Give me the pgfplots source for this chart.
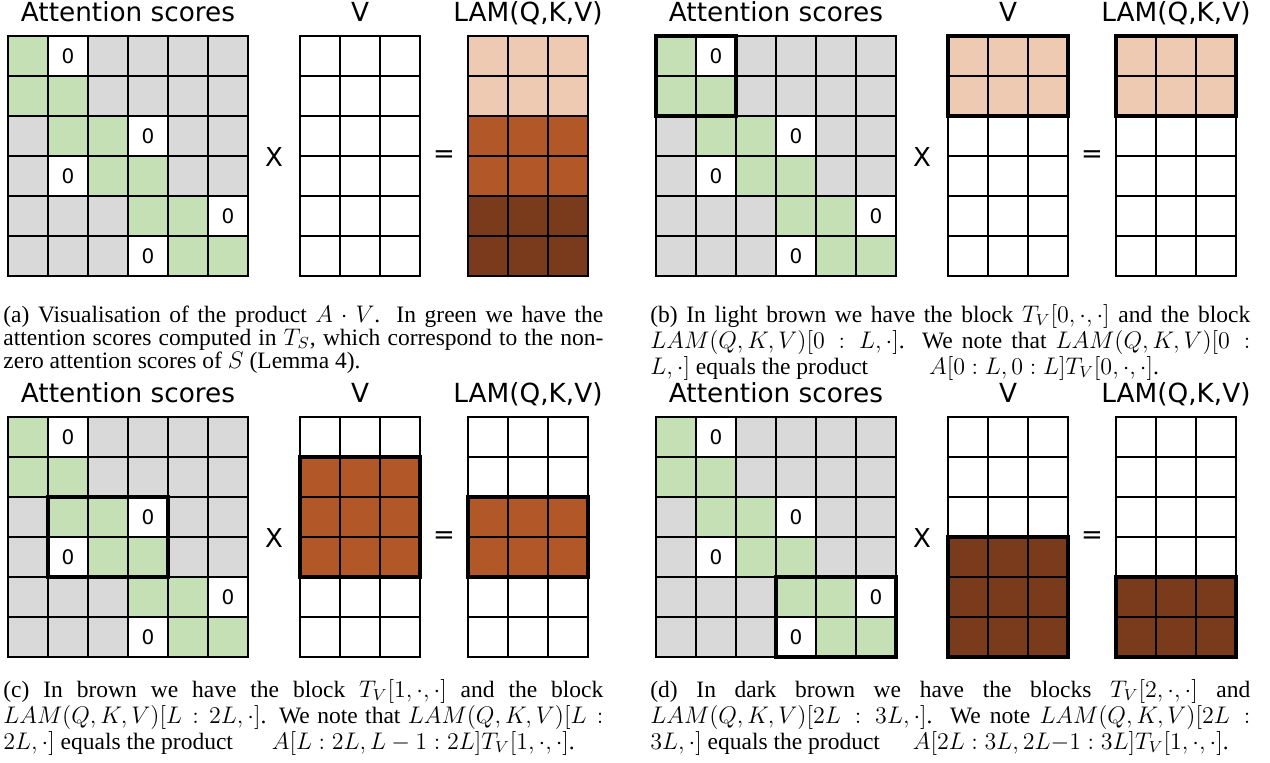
\documentclass[border=0pt]{standalone}
\usepackage{fontspec}
\setmainfont{Liberation Serif}
\newfontfamily\labelfont{DejaVu Sans}
\usepackage{pgfplots}
\usepackage{pgfplotstable}
\pgfplotsset{compat=1.18}

\newlength\px
\setlength\px{0.5pt}
\setlength\lineskiplimit{-20pt}
\newcommand\capstrut{\rule{0pt}{10pt}}

% cell codes: 0 white, 1 grey, 2 green, 3 light brown, 4 brown, 5 dark brown
\pgfplotstableread[row sep=\\]{
x y c\\
0.5 0.5 2\\ 1.5 0.5 0\\ 2.5 0.5 1\\ 3.5 0.5 1\\ 4.5 0.5 1\\ 5.5 0.5 1\\
0.5 1.5 2\\ 1.5 1.5 2\\ 2.5 1.5 1\\ 3.5 1.5 1\\ 4.5 1.5 1\\ 5.5 1.5 1\\
0.5 2.5 1\\ 1.5 2.5 2\\ 2.5 2.5 2\\ 3.5 2.5 0\\ 4.5 2.5 1\\ 5.5 2.5 1\\
0.5 3.5 1\\ 1.5 3.5 0\\ 2.5 3.5 2\\ 3.5 3.5 2\\ 4.5 3.5 1\\ 5.5 3.5 1\\
0.5 4.5 1\\ 1.5 4.5 1\\ 2.5 4.5 1\\ 3.5 4.5 2\\ 4.5 4.5 2\\ 5.5 4.5 0\\
0.5 5.5 1\\ 1.5 5.5 1\\ 2.5 5.5 1\\ 3.5 5.5 0\\ 4.5 5.5 2\\ 5.5 5.5 2\\
}\attn

\pgfplotstableread[row sep=\\]{
x y\\ 1.5 0.5\\ 3.5 2.5\\ 1.5 3.5\\ 5.5 4.5\\ 3.5 5.5\\
}\zeros

\pgfplotstableread[row sep=\\]{
x y c\\
0.5 0.5 0\\ 1.5 0.5 0\\ 2.5 0.5 0\\
0.5 1.5 0\\ 1.5 1.5 0\\ 2.5 1.5 0\\
0.5 2.5 0\\ 1.5 2.5 0\\ 2.5 2.5 0\\
0.5 3.5 0\\ 1.5 3.5 0\\ 2.5 3.5 0\\
0.5 4.5 0\\ 1.5 4.5 0\\ 2.5 4.5 0\\
0.5 5.5 0\\ 1.5 5.5 0\\ 2.5 5.5 0\\
}\Va

\pgfplotstableread[row sep=\\]{
x y c\\
0.5 0.5 3\\ 1.5 0.5 3\\ 2.5 0.5 3\\
0.5 1.5 3\\ 1.5 1.5 3\\ 2.5 1.5 3\\
0.5 2.5 4\\ 1.5 2.5 4\\ 2.5 2.5 4\\
0.5 3.5 4\\ 1.5 3.5 4\\ 2.5 3.5 4\\
0.5 4.5 5\\ 1.5 4.5 5\\ 2.5 4.5 5\\
0.5 5.5 5\\ 1.5 5.5 5\\ 2.5 5.5 5\\
}\La

\pgfplotstableread[row sep=\\]{
x y c\\
0.5 0.5 3\\ 1.5 0.5 3\\ 2.5 0.5 3\\
0.5 1.5 3\\ 1.5 1.5 3\\ 2.5 1.5 3\\
0.5 2.5 0\\ 1.5 2.5 0\\ 2.5 2.5 0\\
0.5 3.5 0\\ 1.5 3.5 0\\ 2.5 3.5 0\\
0.5 4.5 0\\ 1.5 4.5 0\\ 2.5 4.5 0\\
0.5 5.5 0\\ 1.5 5.5 0\\ 2.5 5.5 0\\
}\Vb

\pgfplotstableread[row sep=\\]{
x y c\\
0.5 0.5 0\\ 1.5 0.5 0\\ 2.5 0.5 0\\
0.5 1.5 4\\ 1.5 1.5 4\\ 2.5 1.5 4\\
0.5 2.5 4\\ 1.5 2.5 4\\ 2.5 2.5 4\\
0.5 3.5 4\\ 1.5 3.5 4\\ 2.5 3.5 4\\
0.5 4.5 0\\ 1.5 4.5 0\\ 2.5 4.5 0\\
0.5 5.5 0\\ 1.5 5.5 0\\ 2.5 5.5 0\\
}\Vc

\pgfplotstableread[row sep=\\]{
x y c\\
0.5 0.5 0\\ 1.5 0.5 0\\ 2.5 0.5 0\\
0.5 1.5 0\\ 1.5 1.5 0\\ 2.5 1.5 0\\
0.5 2.5 4\\ 1.5 2.5 4\\ 2.5 2.5 4\\
0.5 3.5 4\\ 1.5 3.5 4\\ 2.5 3.5 4\\
0.5 4.5 0\\ 1.5 4.5 0\\ 2.5 4.5 0\\
0.5 5.5 0\\ 1.5 5.5 0\\ 2.5 5.5 0\\
}\Lc

\pgfplotstableread[row sep=\\]{
x y c\\
0.5 0.5 0\\ 1.5 0.5 0\\ 2.5 0.5 0\\
0.5 1.5 0\\ 1.5 1.5 0\\ 2.5 1.5 0\\
0.5 2.5 0\\ 1.5 2.5 0\\ 2.5 2.5 0\\
0.5 3.5 5\\ 1.5 3.5 5\\ 2.5 3.5 5\\
0.5 4.5 5\\ 1.5 4.5 5\\ 2.5 4.5 5\\
0.5 5.5 5\\ 1.5 5.5 5\\ 2.5 5.5 5\\
}\Vd

\pgfplotstableread[row sep=\\]{
x y c\\
0.5 0.5 0\\ 1.5 0.5 0\\ 2.5 0.5 0\\
0.5 1.5 0\\ 1.5 1.5 0\\ 2.5 1.5 0\\
0.5 2.5 0\\ 1.5 2.5 0\\ 2.5 2.5 0\\
0.5 3.5 0\\ 1.5 3.5 0\\ 2.5 3.5 0\\
0.5 4.5 5\\ 1.5 4.5 5\\ 2.5 4.5 5\\
0.5 5.5 5\\ 1.5 5.5 5\\ 2.5 5.5 5\\
}\Ld

\pgfplotsset{
  colormap={cells}{rgb255=(255,255,255) rgb255=(217,217,217) rgb255=(197,224,180)
    rgb255=(239,202,178) rgb255=(178,87,40) rgb255=(122,58,28)},
  cellgrid/.style={
    scale only axis, height=240\px, xmin=0, ymin=0, ymax=6, y dir=reverse,
    anchor=north west, clip=false, axis on top,
    xtick={0,...,6}, ytick={0,...,6}, xticklabels={}, yticklabels={},
    major tick length=0pt, grid=major,
    major grid style={black, line width=0.7pt},
    axis line style={black, line width=0.7pt},
    every axis title shift=0pt,
    title style={font=\labelfont\fontsize{13.15}{15}\selectfont,
      anchor=base, at={(0.5,1)}, yshift=14\px, inner sep=0pt},
    colormap name=cells, colormap access=direct,
  },
  attn/.style={cellgrid, width=240\px, xmax=6, title={Attention scores}},
  vmat/.style={cellgrid, width=120\px, xmax=3, title={V}},
  lmat/.style={cellgrid, width=120\px, xmax=3, title={LAM(Q,K,V)}},
  blk/.style={black, line width=1.75pt, line cap=rect, line join=miter, mark=none},
  zeros/.style={only marks, mark=none, nodes near coords={0},
    every node near coord/.append style={anchor=center, inner sep=0pt,
      font=\labelfont\fontsize{10}{11}\selectfont}},
}
\tikzset{
  op/.style={font=\labelfont\fontsize{13}{15}\selectfont, inner sep=0pt},
  capt/.style={anchor=north west, inner sep=0pt, text width=600\px, align=justify,
    font=\fontsize{11.75}{11.5}\selectfont},
}

% #1,#2 panel offset; #3 V table; #4 LAM table; #5-#7 block outlines
\newcommand\panel[7]{%
  \begin{axis}[attn, at={({(8+#1)*\px},{-(36+#2)*\px})}]
    \addplot[matrix plot*, mesh/cols=6, point meta=explicit] table[meta=c]{\attn};
    \addplot[zeros] table{\zeros};
    #5
  \end{axis}
  \begin{axis}[vmat, at={({(300+#1)*\px},{-(36+#2)*\px})}]
    \addplot[matrix plot*, mesh/cols=3, point meta=explicit] table[meta=c]{#3};
    #6
  \end{axis}
  \begin{axis}[lmat, at={({(468+#1)*\px},{-(36+#2)*\px})}]
    \addplot[matrix plot*, mesh/cols=3, point meta=explicit] table[meta=c]{#4};
    #7
  \end{axis}
  \node[op] at ({(274+#1)*\px},{-(157+#2)*\px}) {X};
  \node[op] at ({(444+#1)*\px},{-(157+#2)*\px}) {=};
}

\begin{document}
\begin{tikzpicture}
\useasboundingbox (0,0) rectangle (1270\px,-763\px);

\panel{0}{0}{\Va}{\La}{}{}{}
\panel{648}{0}{\Vb}{\Vb}
  {\addplot[blk] coordinates {(0,0) (2,0) (2,2) (0,2) (0,0)};}
  {\addplot[blk] coordinates {(0,0) (3,0) (3,2) (0,2) (0,0)};}
  {\addplot[blk] coordinates {(0,0) (3,0) (3,2) (0,2) (0,0)};}
\panel{0}{381}{\Vc}{\Lc}
  {\addplot[blk] coordinates {(1,2) (4,2) (4,4) (1,4) (1,2)};}
  {\addplot[blk] coordinates {(0,1) (3,1) (3,4) (0,4) (0,1)};}
  {\addplot[blk] coordinates {(0,2) (3,2) (3,4) (0,4) (0,2)};}
\panel{648}{381}{\Vd}{\Ld}
  {\addplot[blk] coordinates {(3,4) (6,4) (6,6) (3,6) (3,4)};}
  {\addplot[blk] coordinates {(0,3) (3,3) (3,6) (0,6) (0,3)};}
  {\addplot[blk] coordinates {(0,4) (3,4) (3,6) (0,6) (0,4)};}

\node[capt] at (3\px,-302\px) {\capstrut(a) Visualisation of the product $A\cdot V$. In green we have the\linebreak
  attention scores computed in $T_S$, which correspond to the non-\linebreak
  zero attention scores of $S$ (Lemma 4).};
\node[capt] at (650\px,-302\px) {\capstrut(b) In light brown we have the block $T_V[0,\cdot,\cdot]$ and the block\linebreak
  $LAM(Q,K,V)[0:L,\cdot]$. We note that $LAM(Q,K,V)[0:$\linebreak
  $L,\cdot]$ equals the product\hspace{55\px} $A[0:L,0:L]T_V[0,\cdot,\cdot]$.};
\node[capt] at (3\px,-677\px) {\capstrut(c) In brown we have the block $T_V[1,\cdot,\cdot]$ and the block\linebreak
  $LAM(Q,K,V)[L:2L,\cdot]$. We note that $LAM(Q,K,V)[L:$\linebreak
  $2L,\cdot]$ equals the product\hspace{33\px} $A[L:2L,L-1:2L]T_V[1,\cdot,\cdot]$.};
\node[capt] at (650\px,-677\px) {\capstrut(d) In dark brown we have the blocks $T_V[2,\cdot,\cdot]$ and\linebreak
  $LAM(Q,K,V)[2L:3L,\cdot]$. We note $LAM(Q,K,V)[2L:$\linebreak
  $3L,\cdot]$ equals the product\hspace{27\px} $A[2L:3L,2L{-}1:3L]T_V[1,\cdot,\cdot]$.};
\end{tikzpicture}
\end{document}
